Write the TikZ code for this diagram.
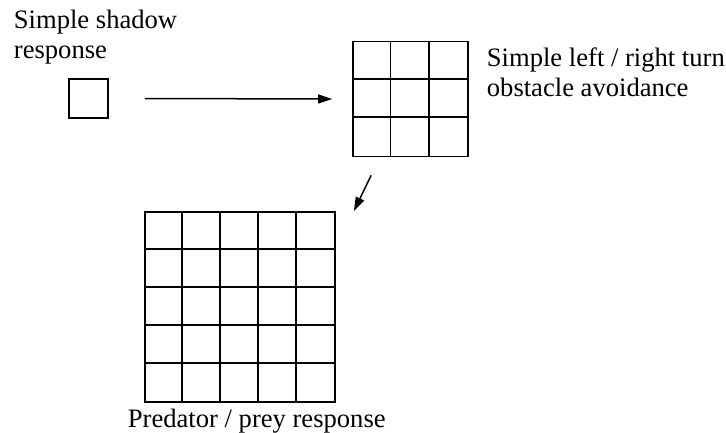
\documentclass[tikz,border=0pt]{standalone}
\usepackage{fontspec}
\setmainfont{Liberation Serif}
\usetikzlibrary{arrows.meta,calc}
\begin{document}
\begin{tikzpicture}[x=1pt,y=-1pt,line width=1.8pt,
    every node/.style={font=\fontsize{26.6}{30}\selectfont},
    cellbox/.style={draw,inner sep=0pt,minimum size=#1},
    label text/.style={anchor=base west,inner sep=0pt,align=left},
    flow/.style={-{Triangle[length=14pt,width=9pt]},line width=1.5pt}]
    \useasboundingbox (0,0) rectangle (726,432);
    % single cell
    \node[cellbox=39pt] (shadow) at (88.5,98.5) {};
    \node[label text] (shadowtext) at (13,58) {Simple shadow\\response};
    % 3 x 3 grid
    \node[cellbox=115pt] (turn) at (410.5,99) {};
    \foreach \i in {1,2} {
        \draw ($(turn.north west)+(\i*38.33,0)$) -- ($(turn.south west)+(\i*38.33,0)$);
        \draw ($(turn.north west)+(0,\i*38.33)$) -- ($(turn.north east)+(0,\i*38.33)$);
    }
    \node[label text] (turntext) at (486,96) {Simple left / right turn\\obstacle avoidance};
    % 5 x 5 grid
    \node[cellbox=190pt] (predator) at (240,307) {};
    \foreach \i in {1,...,4} {
        \draw ($(predator.north west)+(\i*38,0)$) -- ($(predator.south west)+(\i*38,0)$);
        \draw ($(predator.north west)+(0,\i*38)$) -- ($(predator.north east)+(0,\i*38)$);
    }
    \node[label text] (predatortext) at (127,427) {Predator / prey response};
    % arrows
    \draw[flow] ([xshift=36pt]shadow.east) -- ([xshift=-20pt]turn.west);
    \draw[flow] ([shift={(19,18)}]turn.south west) -- ([shift={(18,0)}]predator.north east);
\end{tikzpicture}
\end{document}
